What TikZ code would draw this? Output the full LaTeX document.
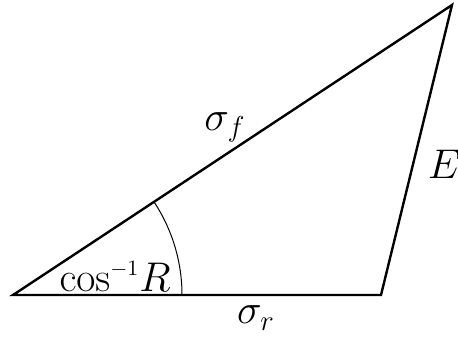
\documentclass[tikz,border=0pt]{standalone}
\usepackage{amsmath,amssymb}
\usepackage{tikz}
\usetikzlibrary{calc}

\begin{document}
\begin{tikzpicture}[x=0.5pt, y=-0.5pt, font=\fontsize{20}{24}\selectfont]
\useasboundingbox (0,0) rectangle (458,337);
% triangle corners
\coordinate (origin) at (13,295);
\coordinate (rcorner) at (381,295);
\coordinate (apex) at (452,5);
\draw[line width=1.2pt, line join=miter] (origin) -- (rcorner) -- (apex) -- cycle;

% angle arc
\draw[line width=0.5pt] ($(origin)+(169,0)$) arc[start angle=0, end angle=33.45, radius=84.5pt];

% labels
\node (sigf) at (225,127) {$\sigma_f$};
\node (sigr) at (256,318) {$\sigma_r$};
\node (elabel) at (444,164) {$E$};
\node[anchor=base east, inner sep=0pt, font=\fontsize{22}{26}\selectfont] (angle) at (171,291) {$\cos^{\scriptscriptstyle-1}\!R$};
\end{tikzpicture}
\end{document}
